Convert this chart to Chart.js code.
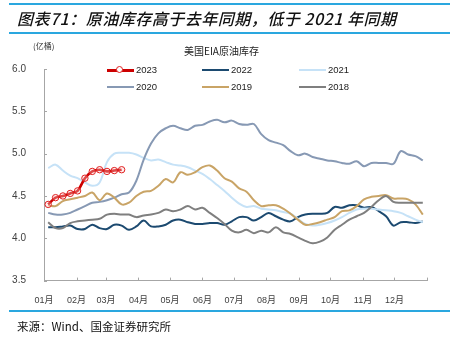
<!DOCTYPE html>
<html>
<head>
<meta charset="utf-8">
<script src="https://cdn.jsdelivr.net/npm/chart.js@4.4.1/dist/chart.umd.min.js"></script>
<style>
  html, body { margin:0; padding:0; background:#fff; }
  #wrap { position:relative; width:450px; height:338px; overflow:hidden; font-family:"Liberation Sans", Arial, "Noto Sans CJK SC", sans-serif; }
  #c { position:absolute; left:0; top:0; }
  .rule { position:absolute; left:9px; right:0; height:2px; background:#2aa7df; }
  #title { position:absolute; left:17px; top:6px; font-size:16px; font-style:italic; font-weight:500; color:#111; letter-spacing:0.5px; white-space:nowrap; font-family:"Noto Sans CJK SC", sans-serif; }
  #unit { position:absolute; left:33px; top:40px; font-size:8px; color:#333; font-family:"Noto Sans CJK SC", sans-serif; }
  #ctitle { position:absolute; left:184px; top:43px; font-size:10px; color:#222; font-family:"Noto Sans CJK SC", sans-serif; }
  #legend { position:absolute; left:0; top:0; width:450px; height:100px; pointer-events:none; }
  .li { position:absolute; font-size:9.5px; color:#222; white-space:nowrap; line-height:12px; }
  .li i { display:inline-block; width:27px; vertical-align:middle; margin-right:2px; position:relative; }
  #source { position:absolute; left:17px; top:318px; font-size:11.5px; color:#111; white-space:nowrap; font-family:"Noto Sans CJK SC", sans-serif; }
</style>
</head>
<body>
<div id="wrap">
  <canvas id="c" width="450" height="338"></canvas>
  <div class="rule" style="top:3px;"></div>
  <div id="title">图表71：原油库存高于去年同期，低于 2021 年同期</div>
  <div class="rule" style="top:32px;"></div>
  <div id="unit">(亿桶)</div>
  <div id="ctitle">美国EIA原油库存</div>
  <div id="legend"></div>
  <div class="rule" style="top:310px;"></div>
  <div id="source">来源：Wind、国金证券研究所</div>
</div>
<script>
// Month axis
const monthDays = [0,31,59,90,120,151,181,212,243,273,304,334,365];
const monthLabels = ['01月','02月','03月','04月','05月','06月','07月','08月','09月','10月','11月','12月',''];
const yTicks = [3.5,4.0,4.5,5.0,5.5,6.0];

// Weekly observation days (day of year)
const weekDays = [4,11,18,25,32,39,46,53,60,67,74,81,88,95,102,109,116,123,130,137,144,151,158,165,172,179,186,193,200,207,214,221,228,235,242,249,256,263,270,277,284,291,298,305,312,319,326,333,340,347,354,361];

// Series (亿桶)
const s2023 = [4.40,4.48,4.50,4.53,4.56,4.71,4.79,4.81,4.79,4.80,4.81];
const s2022 = [4.13,4.13,4.14,4.15,4.11,4.11,4.16,4.12,4.11,4.16,4.15,4.10,4.14,4.21,4.14,4.14,4.16,4.21,4.22,4.19,4.17,4.17,4.18,4.18,4.16,4.20,4.25,4.25,4.21,4.25,4.30,4.26,4.22,4.20,4.25,4.28,4.29,4.29,4.30,4.37,4.36,4.39,4.39,4.36,4.37,4.32,4.26,4.15,4.19,4.19,4.18,4.20];
const s2021 = [4.83,4.87,4.80,4.74,4.71,4.66,4.62,4.66,4.90,5.00,5.01,5.01,4.99,4.95,4.92,4.93,4.90,4.87,4.86,4.84,4.80,4.76,4.70,4.63,4.56,4.48,4.41,4.37,4.38,4.35,4.34,4.33,4.31,4.29,4.23,4.17,4.15,4.16,4.18,4.21,4.25,4.30,4.34,4.35,4.35,4.34,4.33,4.32,4.30,4.26,4.22,4.19];
const s2020 = [4.30,4.28,4.28,4.30,4.34,4.38,4.42,4.43,4.45,4.48,4.52,4.54,4.68,4.93,5.12,5.24,5.30,5.33,5.30,5.28,5.33,5.34,5.38,5.40,5.37,5.39,5.35,5.34,5.35,5.23,5.16,5.13,5.10,5.03,4.98,5.00,4.96,4.94,4.92,4.91,4.89,4.88,4.91,4.85,4.89,4.89,4.89,4.88,5.03,4.99,4.97,4.92];
const s2019 = [4.39,4.38,4.44,4.46,4.48,4.50,4.54,4.45,4.53,4.48,4.40,4.42,4.50,4.55,4.56,4.62,4.70,4.66,4.78,4.75,4.78,4.84,4.86,4.80,4.71,4.67,4.59,4.55,4.45,4.38,4.39,4.39,4.35,4.29,4.22,4.16,4.17,4.19,4.22,4.25,4.32,4.33,4.38,4.46,4.49,4.50,4.51,4.47,4.47,4.46,4.40,4.28];
const s2018 = [4.19,4.12,4.12,4.18,4.20,4.21,4.22,4.23,4.28,4.29,4.28,4.28,4.25,4.27,4.28,4.30,4.34,4.32,4.34,4.38,4.34,4.36,4.30,4.24,4.17,4.09,4.07,4.10,4.06,4.09,4.07,4.13,4.07,4.05,4.01,3.97,3.94,3.96,4.01,4.10,4.16,4.22,4.26,4.30,4.37,4.45,4.50,4.43,4.42,4.42,4.42,4.42];

const seriesNames = ['2023','2022','2021','2020','2019','2018'];
const seriesValues = [s2023,s2022,s2021,s2020,s2019,s2018];
const seriesColors = ['#cc0000','#1c4a70','#c6e2f7','#8799b4','#c9a466','#7f7f7f'];

function toPoints(vals){ return vals.map((v,i)=>({x:weekDays[i], y:v})); }

const datasets = seriesNames.map((name,k)=>{
  const ds = {
    label:name, data:toPoints(seriesValues[k]),
    borderColor:seriesColors[k], backgroundColor:seriesColors[k],
    borderWidth:2, pointRadius:0, tension:0.35, fill:false,
    order: k===0 ? 0 : 10 - k
  };
  if(k===0){
    ds.borderWidth = 2.6;
    ds.pointRadius = 3.2;
    ds.pointBorderWidth = 1;
    ds.pointBorderColor = '#e02020';
    ds.pointBackgroundColor = 'rgba(255,210,210,0.35)';
    ds.tension = 0.25;
  }
  return ds;
});

// HTML legend built from the series
const legendPos = [[107,64],[202,64],[299,64],[107,81],[202,81],[299,81]];
const leg = document.getElementById('legend');
seriesNames.forEach((name,k)=>{
  const d = document.createElement('div');
  d.className='li';
  d.style.left = legendPos[k][0]+'px';
  d.style.top = legendPos[k][1]+'px';
  const sw = document.createElement('i');
  sw.style.height = (k===0?3:2)+'px';
  sw.style.background = seriesColors[k];
  if(k===0){
    const m = document.createElement('span');
    m.style.cssText='position:absolute;left:9px;top:-3px;width:7px;height:7px;border:1px solid #e02020;border-radius:50%;box-sizing:border-box;background:#fff;';
    sw.appendChild(m);
  }
  d.appendChild(sw);
  d.appendChild(document.createTextNode(name));
  leg.appendChild(d);
});

const innerTicks = {
  id:'innerTicks',
  afterDraw(chart){
    const {ctx, scales:{x,y}, chartArea:a} = chart;
    ctx.save();
    ctx.strokeStyle = '#a6a6a6';
    ctx.lineWidth = 1;
    ctx.beginPath();
    monthDays.forEach(d=>{
      const px = Math.round(x.getPixelForValue(d))+0.5;
      ctx.moveTo(px, a.bottom); ctx.lineTo(px, a.bottom-3);
    });
    yTicks.forEach(v=>{
      const py = Math.round(y.getPixelForValue(v))+0.5;
      ctx.moveTo(a.left, py); ctx.lineTo(a.left+3, py);
    });
    ctx.stroke();
    ctx.restore();
  }
};

new Chart(document.getElementById('c'), {
  type:'line',
  data:{ datasets },
  plugins:[innerTicks],
  options:{
    responsive:false, animation:false, devicePixelRatio:1,
    layout:{ padding:{ top:69, right:23, left:0, bottom:0 } },
    plugins:{ legend:{display:false}, title:{display:false}, tooltip:{enabled:false} },
    scales:{
      x:{
        type:'linear', min:0, max:365,
        grid:{ display:false },
        border:{ display:true, color:'#a6a6a6', width:1 },
        afterBuildTicks:(s)=>{ s.ticks = monthDays.map(v=>({value:v})); },
        afterFit:(s)=>{ s.height = 57.4; },
        ticks:{
          autoSkip:false, maxRotation:0, padding:7,
          color:'#404040',
          font:{ size:9, family:'"Liberation Sans", Arial, "Noto Sans CJK SC", sans-serif' },
          callback:(v)=>{ const i = monthDays.indexOf(v); return i>=0 ? monthLabels[i] : ''; }
        }
      },
      y:{
        min:3.5, max:6.0,
        grid:{ display:false },
        border:{ display:true, color:'#a6a6a6', width:1 },
        afterBuildTicks:(s)=>{ s.ticks = yTicks.map(v=>({value:v})); },
        afterFit:(s)=>{ s.width = 44; },
        ticks:{
          padding:10, color:'#404040',
          font:{ size:10, family:'"Liberation Sans", Arial, sans-serif' },
          callback:(v)=>Number(v).toFixed(1)
        }
      }
    }
  }
});
</script>
</body>
</html>
